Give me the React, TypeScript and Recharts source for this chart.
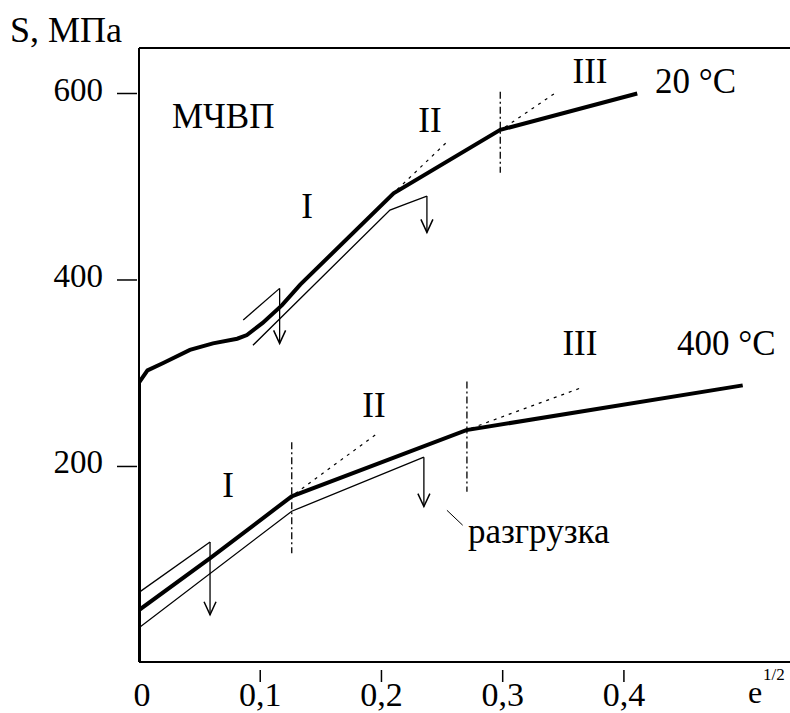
import React from "react";
import { LineChart, Line, XAxis, YAxis, ReferenceLine, ReferenceDot } from "recharts";

// ---- axis setup ----
const xTicks = [0, 0.1, 0.2, 0.3, 0.4];
const yTicks = [200, 400, 600];
const xMin = 0;
const xMax = 0.537;
const yMin = -9.7;
const yMax = 648.8;

// ---- 20 °C curve ----
const t20Main = [
  { x: 0, y: yMin }, { x: 0, y: 290 }, { x: 0.007, y: 303 }, { x: 0.02, y: 311 },
  { x: 0.042, y: 325 }, { x: 0.061, y: 332 }, { x: 0.081, y: 337 }, { x: 0.089, y: 341 },
  { x: 0.102, y: 354 }, { x: 0.118, y: 373 }, { x: 0.133, y: 395 }, { x: 0.21, y: 493 },
  { x: 0.298, y: 561 }, { x: 0.411, y: 600 },
];
const t20Load1 = [{ x: 0.086, y: 357 }, { x: 0.116, y: 391 }];
const t20Unload1 = [{ x: 0.116, y: 391 }, { x: 0.116, y: 332 }];
const t20Load2 = [{ x: 0.094, y: 330 }, { x: 0.207, y: 475 }, { x: 0.221, y: 482 }, { x: 0.2375, y: 490 }];
const t20Unload2 = [{ x: 0.2375, y: 490 }, { x: 0.2375, y: 451 }];
const t20ExtI = [{ x: 0.213, y: 497 }, { x: 0.254, y: 548 }];
const t20ExtII = [{ x: 0.302, y: 564 }, { x: 0.345, y: 602 }];
const t20Split = [{ x: 0.298, y: 602 }, { x: 0.298, y: 515 }];

// ---- 400 °C curve ----
const t400Main = [
  { x: 0, y: 46 }, { x: 0.059, y: 102 }, { x: 0.126, y: 168 }, { x: 0.27, y: 239 }, { x: 0.498, y: 287 },
];
const t400Load1 = [{ x: 0, y: 65 }, { x: 0.0586, y: 119 }];
const t400Unload1 = [{ x: 0.0586, y: 119 }, { x: 0.0586, y: 41 }];
const t400Load2 = [{ x: 0, y: 27 }, { x: 0.126, y: 152 }, { x: 0.235, y: 210 }];
const t400Unload2 = [{ x: 0.235, y: 210 }, { x: 0.235, y: 157 }];
const t400ExtI = [{ x: 0.129, y: 171 }, { x: 0.195, y: 234 }];
const t400ExtII = [{ x: 0.274, y: 241 }, { x: 0.366, y: 285 }];
const t400Split1 = [{ x: 0.126, y: 226 }, { x: 0.126, y: 107 }];
const t400Split2 = [{ x: 0.2705, y: 291 }, { x: 0.2705, y: 173 }];
const pointer = [{ x: 0.254, y: 153 }, { x: 0.267, y: 137 }];

// ---- annotations (anchored in data coordinates) ----
const annXs = [0.0272, 0.1386, 0.24, 0.372, 0.4256, 0.0734, 0.1938, 0.3637, 0.4437, 0.2713];
const annYs = [563, 466.5, 558.7, 611.3, 600.5, 167.3, 253, 319.6, 319.6, 118];
const annTexts = ["МЧВП", "I", "II", "III", "20 °C", "I", "II", "III", "400 °C", "разгрузка"];
const annAnchors = ["start", "middle", "middle", "middle", "start", "middle", "middle", "middle", "start", "start"];

const FONT = "Liberation Serif, Times New Roman, DejaVu Serif, serif";

const fmtX = (v: number) => (v === 0 ? "0" : String(v).replace(".", ","));

const XTick = (props: any) => {
  const { x, y, payload } = props;
  const v = payload.value;
  return (
    <g>
      {v !== 0 && <line x1={x} x2={x} y1={y} y2={y + 12} stroke="#000" strokeWidth={1.5} />}
      <text x={v === 0 ? x + 3 : x} y={706} textAnchor="middle" style={{ fontFamily: FONT, fontSize: 34 }} fill="#000">
        {fmtX(v)}
      </text>
    </g>
  );
};

const YTick = (props: any) => {
  const { y, payload } = props;
  return (
    <g>
      <line x1={117} x2={137} y1={y} y2={y} stroke="#000" strokeWidth={1.5} />
      <text x={103} y={y + 7} textAnchor="end" style={{ fontFamily: FONT, fontSize: 33 }} fill="#000">
        {payload.value}
      </text>
    </g>
  );
};

const arrowDot = (len: number) => (props: any) => {
  const { cx, cy, index } = props;
  if (index !== len - 1) return <g key={`d${index}`} />;
  return (
    <path
      key={`d${index}`}
      d={`M${cx - 6},${cy - 13} L${cx},${cy} L${cx + 6},${cy - 13}`}
      fill="none"
      stroke="#000"
      strokeWidth={1.5}
    />
  );
};

const thick = { stroke: "#000", strokeWidth: 4, dot: false, isAnimationActive: false, type: "linear" as const };
const thin = { stroke: "#000", strokeWidth: 1.3, dot: false, isAnimationActive: false, type: "linear" as const };
const dotted = { ...thin, strokeWidth: 1.2, strokeDasharray: "3 5" };
const dashDot = { ...thin, strokeWidth: 1.3, strokeDasharray: "7 3 2 3" };

export default function App() {
  return (
    <div style={{ position: "absolute", left: 0, top: 0, width: 790, height: 713, background: "#fff", fontFamily: FONT }}>
      <LineChart width={790} height={713} margin={{ top: 48, right: 0, left: 0, bottom: 0 }}>
        <XAxis
          dataKey="x"
          type="number"
          domain={[xMin, xMax]}
          ticks={xTicks}
          allowDataOverflow
          height={51}
          axisLine={{ stroke: "#000", strokeWidth: 2 }}
          tickLine={false}
          tick={<XTick />}
          interval={0}
        />
        <YAxis
          type="number"
          domain={[yMin, yMax]}
          ticks={yTicks}
          allowDataOverflow
          width={139}
          axisLine={{ stroke: "#000", strokeWidth: 2 }}
          tickLine={false}
          tick={<YTick />}
          interval={0}
        />
        <ReferenceLine y={yMax} stroke="#000" strokeWidth={2} ifOverflow="visible" />

        {/* 20 °C */}
        <Line data={t20Load1} dataKey="y" {...thin} />
        <Line data={t20Unload1} dataKey="y" {...thin} dot={arrowDot(t20Unload1.length)} />
        <Line data={t20Load2} dataKey="y" {...thin} />
        <Line data={t20Unload2} dataKey="y" {...thin} dot={arrowDot(t20Unload2.length)} />
        <Line data={t20ExtI} dataKey="y" {...dotted} />
        <Line data={t20ExtII} dataKey="y" {...dotted} />
        <Line data={t20Split} dataKey="y" {...dashDot} />
        <Line data={t20Main} dataKey="y" {...thick} />

        {/* 400 °C */}
        <Line data={t400Load1} dataKey="y" {...thin} />
        <Line data={t400Unload1} dataKey="y" {...thin} dot={arrowDot(t400Unload1.length)} />
        <Line data={t400Load2} dataKey="y" {...thin} />
        <Line data={t400Unload2} dataKey="y" {...thin} dot={arrowDot(t400Unload2.length)} />
        <Line data={t400ExtI} dataKey="y" {...dotted} />
        <Line data={t400ExtII} dataKey="y" {...dotted} />
        <Line data={t400Split1} dataKey="y" {...dashDot} />
        <Line data={t400Split2} dataKey="y" {...dashDot} />
        <Line data={pointer} dataKey="y" {...thin} strokeWidth={1} />
        <Line data={t400Main} dataKey="y" {...thick} />

        {annTexts.map((t, i) => (
          <ReferenceDot
            key={`a${i}`}
            x={annXs[i]}
            y={annYs[i]}
            r={0}
            ifOverflow="visible"
            shape={(p: any) => (
              <text
                x={p.cx}
                y={p.cy}
                textAnchor={annAnchors[i] as any}
                style={{ fontFamily: FONT, fontSize: 35 }}
                fill="#000"
              >
                {t}
              </text>
            )}
          />
        ))}
      </LineChart>
      <svg
        width={790}
        height={713}
        style={{ position: "absolute", left: 0, top: 0, pointerEvents: "none" }}
      >
        <text x={10} y={42} style={{ fontFamily: FONT, fontSize: 36 }} fill="#000">S, МПа</text>
        <text x={748} y={703} style={{ fontFamily: FONT, fontSize: 32 }} fill="#000">e</text>
        <text x={763} y={680} style={{ fontFamily: FONT, fontSize: 17 }} fill="#000">1/2</text>
      </svg>
    </div>
  );
}
